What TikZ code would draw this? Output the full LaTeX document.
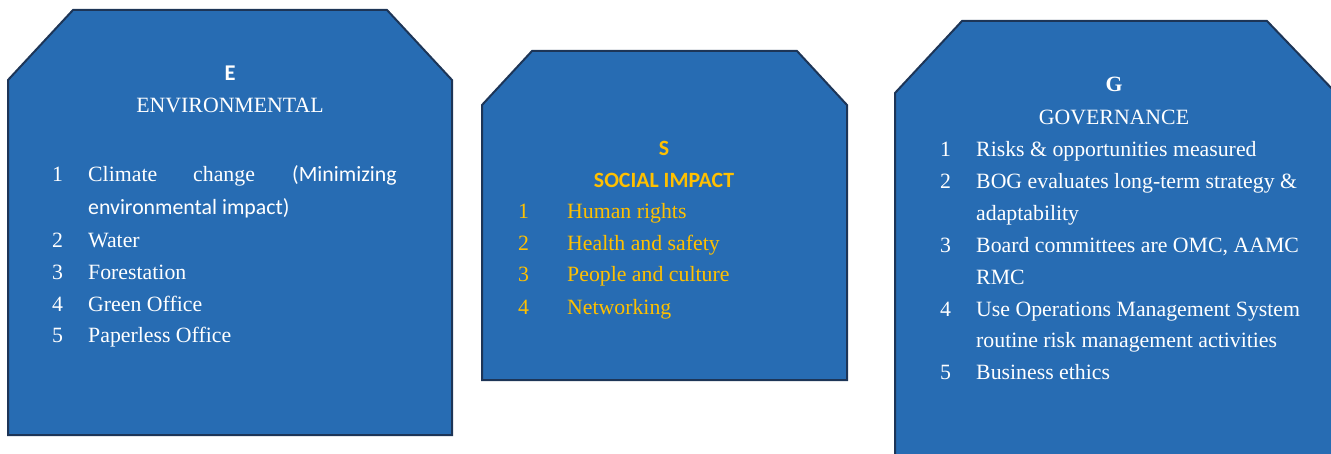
\documentclass[tikz,border=0pt]{standalone}
\usepackage{fontspec}
\setmainfont{Liberation Serif}
\newfontfamily\calfont{Carlito}
\definecolor{boxblue}{HTML}{276CB3}
\definecolor{boxedge}{HTML}{1D3557}
\definecolor{gold}{HTML}{FFC000}
\begin{document}
\begin{tikzpicture}[x=1pt,y=-1pt,
  panel/.style={fill=boxblue,draw=boxedge,line width=2pt,line join=miter},
  txt/.style={anchor=base west,inner sep=0pt,font=\fontsize{21.8}{26}\selectfont,text=white},
  ytxt/.style={txt,text=gold},
  head/.style={anchor=base,inner sep=0pt,font=\fontsize{21.8}{26}\selectfont,text=white},
  shead/.style={head,text=gold,font=\fontsize{21.8}{26}\selectfont\calfont\bfseries}]
\useasboundingbox (0,0) rectangle (1331,454);
\clip (0,0) rectangle (1331,454);
% panels
\draw[panel] (73,10) -- (387,10) -- (452,80) -- (452,435) -- (8,435) -- (8,80) -- cycle;
\draw[panel] (532,51) -- (797,51) -- (847,105) -- (847,380) -- (482,380) -- (482,105) -- cycle;
\draw[panel] (962,21) -- (1267,21) -- (1336,93) -- (1336,470) -- (895,470) -- (895,93) -- cycle;
% E
\node[head,font=\fontsize{22.5}{26}\selectfont\calfont\bfseries] (eh) at (230,81) {E};
\node[head] (et) at (230,113) {ENVIRONMENTAL};
\node[txt] (e1n) at (52,182) {1};
\node[txt] (e1a) at (88,182) {Climate};
\node[txt] (e1b) at (193,182) {change};
\node[txt,font=\fontsize{21.8}{26}\selectfont\calfont] (e1c) at (292,182) {(Minimizing};
\node[txt,font=\fontsize{21.8}{26}\selectfont\calfont] (e1d) at (88,215) {environmental impact)};
\node[txt] (e2n) at (52,248) {2};
\node[txt] (e2) at (88,248) {Water};
\node[txt] (e3n) at (52,280) {3};
\node[txt] (e3) at (88,280) {Forestation};
\node[txt] (e4n) at (52,312) {4};
\node[txt] (e4) at (88,312) {Green Office};
\node[txt] (e5n) at (52,343) {5};
\node[txt] (e5) at (88,343) {Paperless Office};
% S
\node[shead] (sh) at (664,156) {S};
\node[shead] (st) at (664,188) {SOCIAL IMPACT};
\node[ytxt] (s1n) at (518,219) {1};
\node[ytxt] (s1) at (567,219) {Human rights};
\node[ytxt] (s2n) at (518,251) {2};
\node[ytxt] (s2) at (567,251) {Health and safety};
\node[ytxt] (s3n) at (518,282) {3};
\node[ytxt] (s3) at (567,282) {People and culture};
\node[ytxt] (s4n) at (518,315) {4};
\node[ytxt] (s4) at (567,315) {Networking};
% G
\node[head,font=\fontsize{21.8}{26}\selectfont\bfseries] (gh) at (1114,92) {G};
\node[head] (gt) at (1114,125) {GOVERNANCE};
\node[txt] (g1n) at (940,157) {1};
\node[txt] (g1) at (976,157) {Risks \& opportunities measured};
\node[txt] (g2n) at (940,189) {2};
\node[txt] (g2) at (976,189) {BOG evaluates long-term strategy \&};
\node[txt] (g2b) at (976,221) {adaptability};
\node[txt] (g3n) at (940,253) {3};
\node[txt] (g3) at (976,253) {Board committees are OMC, AAMC};
\node[txt] (g3b) at (976,285) {RMC};
\node[txt] (g4n) at (940,317) {4};
\node[txt] (g4) at (976,317) {Use Operations Management System};
\node[txt] (g4b) at (976,348) {routine risk management activities};
\node[txt] (g5n) at (940,380) {5};
\node[txt] (g5) at (976,380) {Business ethics};
\end{tikzpicture}
\end{document}
